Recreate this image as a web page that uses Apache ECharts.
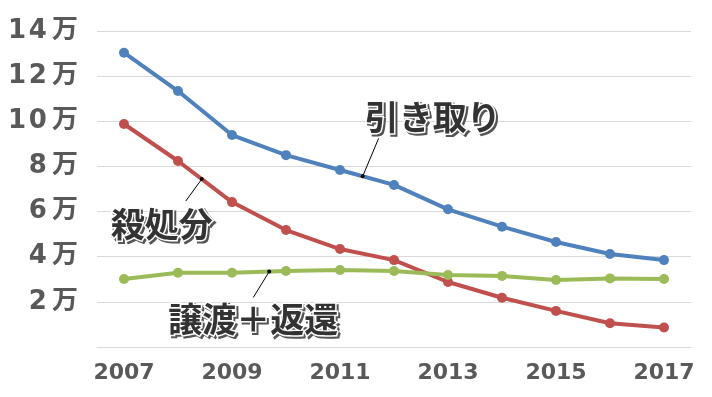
<!DOCTYPE html>
<html>
<head>
<meta charset="utf-8">
<script src="https://cdn.jsdelivr.net/npm/echarts@6/dist/echarts.min.js"></script>
<style>
html,body{margin:0;padding:0;background:#fff;}
#chart{width:712px;height:397px;}
</style>
</head>
<body>
<div id="chart"></div>
<script>
const years = ['2007','2008','2009','2010','2011','2012','2013','2014','2015','2016','2017'];
const hikitori = [13.04, 11.34, 9.39, 8.5, 7.84, 7.18, 6.1, 5.33, 4.65, 4.12, 3.85];
const satsushobun = [9.88, 8.24, 6.42, 5.18, 4.34, 3.85, 2.88, 2.18, 1.6, 1.05, 0.86];
const jouto = [3.01, 3.29, 3.29, 3.37, 3.41, 3.37, 3.19, 3.15, 2.97, 3.04, 3.01];
const seriesNames = ['引き取り', '殺処分', '譲渡＋返還'];
const colors = ['#4F81BD', '#C0504D', '#9BBB59'];
const yMin = 0, yMax = 14, yStep = 2;

const chart = echarts.init(document.getElementById('chart'), null, {renderer: 'canvas'});
const dataSets = [hikitori, satsushobun, jouto];

chart.setOption({
  animation: false,
  backgroundColor: '#ffffff',
  grid: {left: 97, right: 21, top: 31, bottom: 50, containLabel: false},
  xAxis: {
    type: 'category',
    data: years,
    boundaryGap: true,
    axisLine: {show: true, lineStyle: {color: '#d9d9d9', width: 1}},
    axisTick: {show: false},
    axisLabel: {
      interval: 1,
      margin: 15,
      color: '#595959',
      fontFamily: 'DejaVu Sans',
      fontWeight: 'bold',
      fontSize: 22
    },
    splitLine: {show: false}
  },
  yAxis: {
    type: 'value',
    min: yMin, max: yMax, interval: yStep,
    axisLine: {show: false},
    axisTick: {show: false},
    axisLabel: {
      margin: 19,
      formatter: v => v === 0 ? '' : String(v).split('').join('\u200A') + '\u2009万',
      color: '#595959',
      fontFamily: 'DejaVu Sans, "Noto Sans CJK JP"',
      fontWeight: 'bold',
      fontSize: 26
    },
    splitLine: {show: true, lineStyle: {color: '#d9d9d9', width: 1}}
  },
  series: dataSets.map((d, i) => ({
    name: seriesNames[i],
    type: 'line',
    data: d,
    symbol: 'circle',
    symbolSize: 10,
    showSymbol: true,
    color: colors[i],
    lineStyle: {width: 4, color: colors[i]},
    itemStyle: {color: colors[i]},
    z: 2 + i
  }))
});

// Annotations: [series index, segment start index, fraction, line end offset, text center offset]
const annotations = [
  {s: 0, i: 4, t: 0.42, line: [16, -38], text: [70, -59]},
  {s: 1, i: 1, t: 0.44, line: [-16, 22], text: [-40, 45]},
  {s: 2, i: 2, t: 0.69, line: [-16, 26], text: [-16, 48]}
];

const graphics = [];
annotations.forEach(a => {
  const d = dataSets[a.s];
  const p0 = chart.convertToPixel({gridIndex: 0}, [a.i, d[a.i]]);
  const p1 = chart.convertToPixel({gridIndex: 0}, [a.i + 1, d[a.i + 1]]);
  const x = p0[0] + (p1[0] - p0[0]) * a.t;
  const y = p0[1] + (p1[1] - p0[1]) * a.t;
  graphics.push({
    type: 'line', z: 10,
    shape: {x1: x, y1: y, x2: x + a.line[0], y2: y + a.line[1]},
    style: {stroke: '#000', lineWidth: 1}
  });
  graphics.push({
    type: 'circle', z: 11,
    shape: {cx: x, cy: y, r: 2},
    style: {fill: '#000'}
  });
  const tx = x + a.text[0], ty = y + a.text[1];
  const font = {fontFamily: '"Noto Sans CJK JP"', fontWeight: 'bold', fontSize: 34};
  graphics.push({
    type: 'text', z: 12, x: tx + 2, y: ty + 2,
    style: Object.assign({
      text: seriesNames[a.s], align: 'center', verticalAlign: 'middle',
      fill: '#555555', stroke: '#555555', lineWidth: 3
    }, font)
  });
  graphics.push({
    type: 'text', z: 13, x: tx, y: ty,
    style: Object.assign({
      text: seriesNames[a.s], align: 'center', verticalAlign: 'middle',
      fill: '#333333', stroke: '#ffffff', lineWidth: 3
    }, font)
  });
});
chart.setOption({graphic: graphics});
</script>
</body>
</html>
